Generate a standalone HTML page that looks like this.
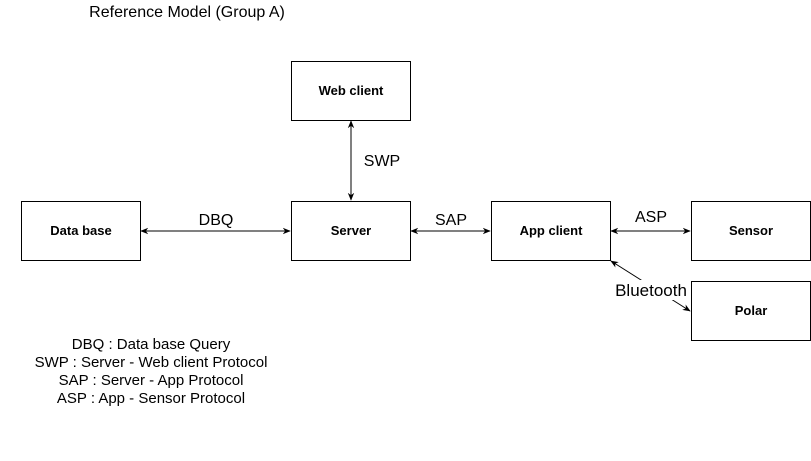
<!DOCTYPE html>
<html><head><meta charset="utf-8"><style>
html,body{margin:0;padding:0;background:#fff;}
svg{display:block;font-family:"Liberation Sans",Arial,sans-serif;}
</style></head><body>
<svg width="811" height="461" viewBox="0 0 811 461" xmlns="http://www.w3.org/2000/svg">
<defs>
<marker id="a" viewBox="0 0 10 10" refX="9" refY="5" markerWidth="8" markerHeight="8" orient="auto-start-reverse" markerUnits="userSpaceOnUse">
<path d="M0,1 L10,5 L0,9 L3,5 Z" fill="#000"/>
</marker>
</defs>
<rect width="811" height="461" fill="#fff"/>
<text x="187" y="17" font-size="16" text-anchor="middle" fill="#000">Reference Model (Group A)</text>
<g fill="#fff" stroke="#000" stroke-width="1">
<rect x="291.5" y="61.5" width="119" height="59"/>
<rect x="21.5" y="201.5" width="119" height="59"/>
<rect x="291.5" y="201.5" width="119" height="59"/>
<rect x="491.5" y="201.5" width="119" height="59"/>
<rect x="691.5" y="201.5" width="119" height="59"/>
<rect x="691.5" y="281.5" width="119" height="59"/>
</g>
<g font-size="13" font-weight="bold" text-anchor="middle" fill="#000">
<text x="351" y="95">Web client</text>
<text x="81" y="235">Data base</text>
<text x="351" y="235">Server</text>
<text x="551" y="235">App client</text>
<text x="751" y="235">Sensor</text>
<text x="751" y="315">Polar</text>
</g>
<g stroke="#000" stroke-width="1" fill="none" marker-start="url(#a)" marker-end="url(#a)">
<line x1="351" y1="121" x2="351" y2="200"/>
<line x1="141" y1="231" x2="290" y2="231"/>
<line x1="411" y1="231" x2="490" y2="231"/>
<line x1="611" y1="231" x2="690" y2="231"/>
<line x1="611" y1="261" x2="690" y2="311"/>
</g>
<rect x="612" y="280" width="78" height="20" fill="#fff"/>
<g font-size="16" text-anchor="middle" fill="#000">
<text x="382" y="166">SWP</text>
<text x="216" y="225">DBQ</text>
<text x="451" y="225">SAP</text>
<text x="651" y="222">ASP</text>
<text x="651" y="296" font-size="17">Bluetooth</text>
</g>
<g font-size="15" text-anchor="middle" fill="#000">
<text x="151" y="349">DBQ : Data base Query</text>
<text x="151" y="367">SWP : Server - Web client Protocol</text>
<text x="151" y="385">SAP :  Server - App Protocol</text>
<text x="151" y="403">ASP : App - Sensor Protocol</text>
</g>
</svg>
</body></html>
